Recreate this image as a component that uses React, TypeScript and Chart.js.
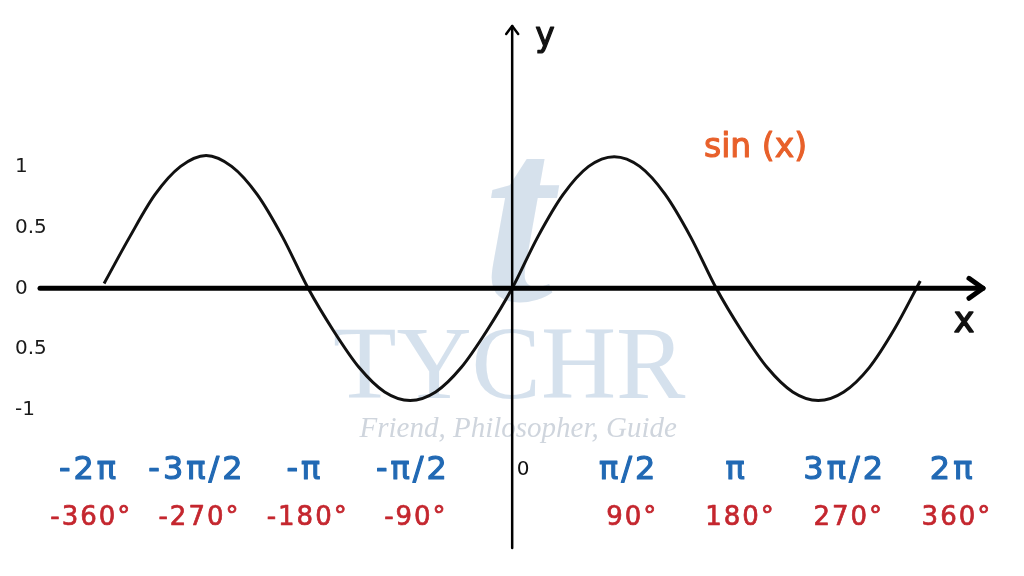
import React, { useEffect, useRef } from "react";
import { Chart, registerables } from "chart.js";

Chart.register(...registerables);

// Curve samples: x in steps of π/8 (from -2π to 2π), y
const curveSteps = [-16, -15, -14, -13, -12, -11, -10, -9, -8, -7, -6, -5, -4, -3, -2, -1, 0, 1, 2, 3, 4, 5, 6, 7, 8, 9, 10, 11, 12, 13, 14, 15, 16];
const curveValues = [0.04, 0.42, 0.77, 1.0, 1.09, 1.0, 0.77, 0.42, 0.0, -0.35, -0.65, -0.85, -0.92, -0.85, -0.65, -0.35, 0.0, 0.42, 0.77, 1.0, 1.08, 1.0, 0.77, 0.42, 0.0, -0.35, -0.65, -0.85, -0.92, -0.85, -0.65, -0.33, 0.06];

// Tick labels
const yTickValues = [1, 0.5, 0, -0.5, -1];
const yTickLabels = ["1", "0.5", "0", "0.5", "-1"];
const radianTickValues = [-2, -1.5, -1, -0.5, 0.5, 1, 1.5, 2]; // multiples of π
const radianTickLabels = ["-2π", "-3π/2", "-π", "-π/2", "π/2", "π", "3π/2", "2π"];
const degreeTickValues = [-360, -270, -180, -90, 90, 180, 270, 360];
const degreeTickLabels = ["-360°", "-270°", "-180°", "-90°", "90°", "180°", "270°", "360°"];
const originLabel = "0";
const seriesLabel = "sin (x)";
const xAxisTitle = "x";
const yAxisTitle = "y";
const watermarkTitle = "TYCHR";
const watermarkSub = "Friend, Philosopher, Guide";
const xAxisStart = -7.27;

const FONT = "'DejaVu Sans', sans-serif";

function boldText(ctx: any, text: string, x: number, y: number, w: number) {
  ctx.lineWidth = w;
  ctx.lineJoin = "round";
  ctx.strokeStyle = ctx.fillStyle;
  ctx.strokeText(text, x, y);
  ctx.fillText(text, x, y);
}

const decorPlugin = {
  id: "decor",
  beforeDatasetsDraw(chart: any) {
    const { ctx } = chart;
    const cx = chart.scales.x.getPixelForValue(0);
    ctx.save();
    // watermark logo (stylised t)
    ctx.fillStyle = "rgba(180,200,220,0.55)";
    ctx.font = "italic bold 250px 'Liberation Serif', serif";
    ctx.textAlign = "center";
    ctx.textBaseline = "alphabetic";
    ctx.fillText("t", cx + 6, 300);
    // watermark text
    ctx.fillStyle = "rgba(178,200,222,0.55)";
    ctx.font = "104px 'Liberation Serif', serif";
    ctx.fillText(watermarkTitle, cx - 3, 398);
    ctx.fillStyle = "rgba(175,185,198,0.6)";
    ctx.font = "italic 29px 'Liberation Serif', serif";
    ctx.fillText(watermarkSub, cx + 6, 437);
    ctx.restore();
  },
  afterDatasetsDraw(chart: any) {
    const { ctx, chartArea, scales } = chart;
    const x0 = scales.x.getPixelForValue(0);
    const y0 = scales.y.getPixelForValue(0);
    const xl = scales.x.getPixelForValue(xAxisStart);
    ctx.save();
    ctx.strokeStyle = "#000";
    ctx.lineCap = "round";
    ctx.lineJoin = "round";

    // x axis
    ctx.lineWidth = 5;
    ctx.beginPath();
    ctx.moveTo(xl, y0);
    ctx.lineTo(chartArea.right - 2, y0);
    ctx.stroke();
    ctx.beginPath();
    ctx.moveTo(chartArea.right - 16, y0 - 10);
    ctx.lineTo(chartArea.right - 2, y0);
    ctx.lineTo(chartArea.right - 16, y0 + 10);
    ctx.stroke();

    // y axis
    ctx.lineWidth = 2.5;
    ctx.beginPath();
    ctx.moveTo(x0, chartArea.top + 1);
    ctx.lineTo(x0, chartArea.bottom);
    ctx.stroke();
    ctx.beginPath();
    ctx.moveTo(x0 - 6, chartArea.top + 9);
    ctx.lineTo(x0, chartArea.top + 1);
    ctx.lineTo(x0 + 6, chartArea.top + 9);
    ctx.stroke();

    // axis titles
    ctx.fillStyle = "#111";
    ctx.textAlign = "center";
    ctx.textBaseline = "alphabetic";
    ctx.font = `33px ${FONT}`;
    boldText(ctx, yAxisTitle, 545, 46, 1.2);
    ctx.font = `35px ${FONT}`;
    boldText(ctx, xAxisTitle, 964, 332, 1.4);

    // series label
    ctx.fillStyle = "#e8602a";
    ctx.font = `33px ${FONT}`;
    ctx.textAlign = "left";
    boldText(ctx, seriesLabel, 704, 157, 1.1);

    // radian labels
    ctx.textAlign = "center";
    ctx.textBaseline = "middle";
    ctx.fillStyle = "#2169b4";
    ctx.font = `32px ${FONT}`;
    ctx.letterSpacing = "3px";
    radianTickValues.forEach((v, i) => {
      boldText(ctx, radianTickLabels[i], scales.xRad.getPixelForValue(v) + 1.5, 471, 1.1);
    });
    // degree labels
    ctx.fillStyle = "#c4262e";
    ctx.font = `26px ${FONT}`;
    ctx.letterSpacing = "2px";
    degreeTickValues.forEach((v, i) => {
      boldText(ctx, degreeTickLabels[i], scales.xDeg.getPixelForValue(v) + 1, 518, 0.7);
    });
    ctx.letterSpacing = "0px";
    // origin label
    ctx.fillStyle = "#111";
    ctx.font = `20px ${FONT}`;
    ctx.fillText(originLabel, x0 + 11, 470);
    ctx.restore();
  },
};

export default function App() {
  const ref = useRef<HTMLCanvasElement | null>(null);

  useEffect(() => {
    if (!ref.current) return;
    const data = curveSteps.map((k, i) => ({ x: (k * Math.PI) / 8, y: curveValues[i] }));
    const chart = new Chart(ref.current, {
      type: "line",
      data: {
        datasets: [
          {
            label: seriesLabel,
            data,
            borderColor: "#111",
            borderWidth: 3,
            pointRadius: 0,
            cubicInterpolationMode: "monotone",
            fill: false,
            xAxisID: "x",
            yAxisID: "y",
          },
        ],
      },
      options: {
        animation: false,
        responsive: true,
        maintainAspectRatio: false,
        layout: { padding: { left: 15, top: 25, right: 39, bottom: 28 } },
        plugins: { legend: { display: false }, tooltip: { enabled: false } },
        scales: {
          x: { type: "linear", display: false, min: -7.655, max: 7.28 },
          xRad: { type: "linear", display: false, min: -2.336, max: 2.157 },
          xDeg: { type: "linear", display: false, min: -422.6, max: 384.2 },
          y: {
            type: "linear",
            position: "left",
            min: -2.13,
            max: 2.16,
            grid: { display: false, drawTicks: false },
            border: { display: false },
            afterFit: (s: any) => {
              s.width = 0;
            },
            afterBuildTicks: (s: any) => {
              s.ticks = yTickValues.map((v) => ({ value: v }));
            },
            ticks: {
              autoSkip: false,
              mirror: true,
              padding: 0,
              color: "#1a1a1a",
              font: { family: "DejaVu Sans", size: 20 },
              callback: (_v: any, i: number) => yTickLabels[i],
            },
          },
        },
      },
      plugins: [decorPlugin],
    } as any);
    return () => chart.destroy();
  }, []);

  return (
    <div style={{ position: "fixed", left: 0, top: 0, width: 1024, height: 576, background: "#fff" }}>
      <canvas ref={ref} />
    </div>
  );
}
